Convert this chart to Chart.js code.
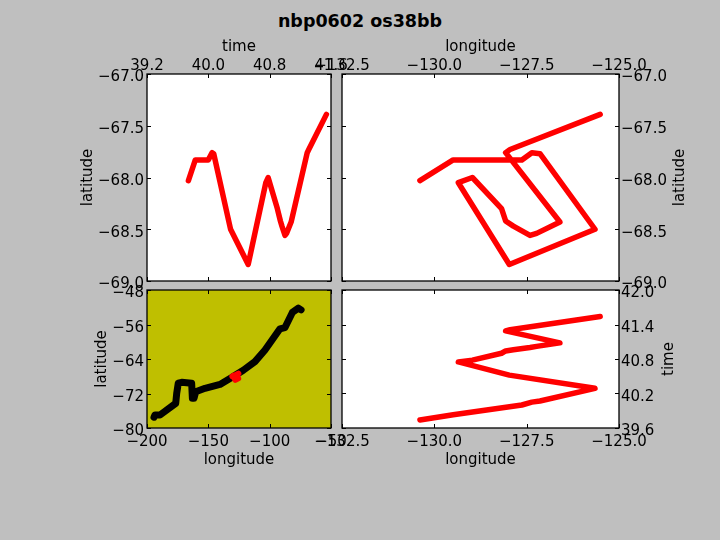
<!DOCTYPE html>
<html>
<head>
<meta charset="utf-8">
<title>nbp0602 os38bb</title>
<script src="https://cdn.jsdelivr.net/npm/chart.js"></script>
<style>
  html, body { margin: 0; padding: 0; background: #bfbfbf; }
  #fig { position: relative; width: 720px; height: 540px; overflow: hidden; }
  #fig canvas { position: absolute; left: 0; top: 0; }
  #title { position: absolute; left: 0; width: 720px; top: 11px; text-align: center;
           font: bold 17.5px "DejaVu Sans"; color: #000; }
</style>
</head>
<body>
<div id="fig">
  <div id="title">nbp0602 os38bb</div>
  <canvas id="timeLat" width="720" height="540"></canvas>
  <canvas id="lonLat" width="720" height="540"></canvas>
  <canvas id="overview" width="720" height="540"></canvas>
  <canvas id="lonTime" width="720" height="540"></canvas>
</div>
<script>
// section track, in time order
const trackTime = [39.74, 39.83, 40.00, 40.05, 40.07, 40.29, 40.52, 40.75, 40.78, 40.90, 40.94, 40.96, 41.00, 41.02, 41.08, 41.29, 41.31, 41.54];
const trackLon = [-130.39, -129.49, -127.63, -127.36, -127.14, -125.65, -127.97, -129.35, -128.97, -128.18, -128.07, -127.86, -127.41, -127.23, -126.60, -128.07, -127.95, -125.51];
const trackLat = [-68.03, -67.83, -67.83, -67.76, -67.77, -68.50, -68.84, -68.05, -68.00, -68.30, -68.42, -68.47, -68.56, -68.54, -68.43, -67.76, -67.73, -67.39];

// whole cruise track, black line in the lower left panel
const cruiseLon = [-194.3, -193.5, -189.4, -176.6, -175.8, -174.5, -171.7, -163.6, -163.0, -161.7, -160.3, -152.7, -140.5, -131.0, -121.5, -112.0, -103.8, -91.6, -87.5, -81.5, -76.6, -74.4];
const cruiseLat = [-77.5, -77.0, -77.0, -74.3, -72.0, -69.6, -69.4, -69.6, -73.1, -73.1, -71.6, -70.8, -69.9, -68.3, -66.6, -64.6, -61.9, -57.0, -56.7, -53.2, -52.2, -52.6];

// tick labels
const timeTicksTop = [39.2, 40.0, 40.8, 41.6];
const timeTicksRight = [39.6, 40.2, 40.8, 41.4, 42.0];
const lonTicks = [-132.5, -130.0, -127.5, -125.0];
const latTicks = [-69.0, -68.5, -68.0, -67.5, -67.0];
const cruiseLonTicks = [-200, -150, -100, -50];
const cruiseLatTicks = [-80, -72, -64, -56, -48];

const FONT = { family: "DejaVu Sans", size: 15 };
Chart.defaults.font.family = FONT.family;
Chart.defaults.font.size = FONT.size;
Chart.defaults.color = "#000";

function pts(xs, ys) {
  return xs.map((x, i) => ({ x: x, y: ys[i] }));
}

function fmt(v, dec) {
  const s = Math.abs(v).toFixed(dec);
  return v < 0 ? "\u2212" + s : s;
}

// matplotlib look: frame all round, short ticks pointing inwards on every side
const framePlugin = {
  id: "frame",
  afterLayout(chart) {
    // y tick labels sit a little lower than chart.js puts them
    chart.scales.y.getLabelItems().forEach(item => { item.textOffset += 3.5; });
  },
  beforeDatasetsDraw(chart, args, opts) {
    const a = chart.chartArea;
    chart.ctx.save();
    chart.ctx.fillStyle = opts.bg;
    chart.ctx.fillRect(a.left, a.top, a.width, a.height);
    chart.ctx.restore();
  },
  afterDatasetsDraw(chart, args, opts) {
    const a = chart.chartArea, c = chart.ctx;
    c.save();
    c.strokeStyle = "#000";
    c.lineWidth = 1;
    c.beginPath();
    chart.scales.x.ticks.forEach(t => {
      const p = Math.round(chart.scales.x.getPixelForValue(t.value)) + 0.5;
      c.moveTo(p, a.top); c.lineTo(p, a.top + 4);
      c.moveTo(p, a.bottom); c.lineTo(p, a.bottom - 4);
    });
    chart.scales.y.ticks.forEach(t => {
      const p = Math.round(chart.scales.y.getPixelForValue(t.value)) + 0.5;
      c.moveTo(a.left, p); c.lineTo(a.left + 4, p);
      c.moveTo(a.right, p); c.lineTo(a.right - 4, p);
    });
    c.stroke();
    c.lineWidth = 1.3;
    c.strokeRect(a.left, a.top, a.width, a.height);
    // chart.js turns a right hand axis title the other way, so it goes here
    if (opts.sideLabel) {
      c.translate(opts.sideX, (a.top + a.bottom) / 2);
      c.rotate(-Math.PI / 2);
      c.fillStyle = "#000";
      c.font = FONT.size + "px " + FONT.family;
      c.textAlign = "center";
      c.textBaseline = "middle";
      c.fillText(opts.sideLabel, 0, 0);
    }
    c.restore();
  }
};

function ax(o) {
  return {
    type: "linear",
    position: o.pos,
    min: o.ticks[0],
    max: o.ticks[o.ticks.length - 1],
    boxSize: o.size,
    grid: { display: false, drawTicks: false },
    border: { display: false },
    afterBuildTicks: s => { s.ticks = o.ticks.map(v => ({ value: v })); },
    afterFit: s => {
      if (o.pos === "top" || o.pos === "bottom") s.height = o.size;
      else s.width = o.size;
    },
    ticks: {
      autoSkip: false,
      maxRotation: 0,
      padding: o.tickPad,
      callback: v => fmt(v, o.dec)
    },
    title: {
      display: !!o.label,
      text: o.label,
      padding: o.titlePad,
      font: FONT
    }
  };
}

function line(xs, ys, color, width) {
  return {
    data: pts(xs, ys),
    showLine: true,
    borderColor: color,
    backgroundColor: color,
    borderWidth: width,
    borderCapStyle: "round",
    borderJoinStyle: "round",
    pointRadius: 0,
    pointHoverRadius: 0
  };
}

function panel(id, box, xAxis, yAxis, datasets, frame) {
  const padding = {
    left: box.left - (yAxis.position === "left" ? yAxis.boxSize : 0),
    right: 720 - box.right - (yAxis.position === "right" ? yAxis.boxSize : 0),
    top: box.top - (xAxis.position === "top" ? xAxis.boxSize : 0),
    bottom: 540 - box.bottom - (xAxis.position === "bottom" ? xAxis.boxSize : 0)
  };
  return new Chart(document.getElementById(id), {
    type: "scatter",
    data: { datasets: datasets },
    options: {
      responsive: false,
      animation: false,
      layout: { padding: padding },
      scales: { x: xAxis, y: yAxis },
      plugins: { legend: { display: false }, tooltip: { enabled: false }, frame: frame }
    },
    plugins: [framePlugin]
  });
}

const RED = "#ff0000";

panel("timeLat", { left: 147, right: 331, top: 74, bottom: 281 },
  ax({ pos: "top", ticks: timeTicksTop, dec: 1, label: "time", size: 40, tickPad: -1, titlePad: { top: 4, bottom: 0 } }),
  ax({ pos: "left", ticks: latTicks, dec: 1, label: "latitude", size: 70, tickPad: 3, titlePad: { top: 2, bottom: 0 } }),
  [line(trackTime, trackLat, RED, 5.5)], { bg: "#ffffff" });

panel("lonLat", { left: 342, right: 619, top: 74, bottom: 281 },
  ax({ pos: "top", ticks: lonTicks, dec: 1, label: "longitude", size: 40, tickPad: -1, titlePad: { top: 4, bottom: 0 } }),
  ax({ pos: "right", ticks: latTicks, dec: 1, size: 70, tickPad: 2 }),
  [line(trackLon, trackLat, RED, 5.5)], { bg: "#ffffff", sideLabel: "latitude", sideX: 680 });

// red goes first so it is drawn over the black
panel("overview", { left: 147, right: 331, top: 290, bottom: 428 },
  ax({ pos: "bottom", ticks: cruiseLonTicks, dec: 0, label: "longitude", size: 41, tickPad: 5, titlePad: { top: 1, bottom: 0 } }),
  ax({ pos: "left", ticks: cruiseLatTicks, dec: 0, label: "latitude", size: 56, tickPad: 3, titlePad: { top: 2, bottom: 0 } }),
  [line(trackLon, trackLat, RED, 6), line(cruiseLon, cruiseLat, "#000000", 7)], { bg: "#bfbf00" });

panel("lonTime", { left: 342, right: 619, top: 290, bottom: 428 },
  ax({ pos: "bottom", ticks: lonTicks, dec: 1, label: "longitude", size: 41, tickPad: 5, titlePad: { top: 1, bottom: 0 } }),
  ax({ pos: "right", ticks: timeTicksRight, dec: 1, size: 60, tickPad: 2 }),
  [line(trackLon, trackTime, RED, 5.5)], { bg: "#ffffff", sideLabel: "time", sideX: 669 });
</script>
</body>
</html>
